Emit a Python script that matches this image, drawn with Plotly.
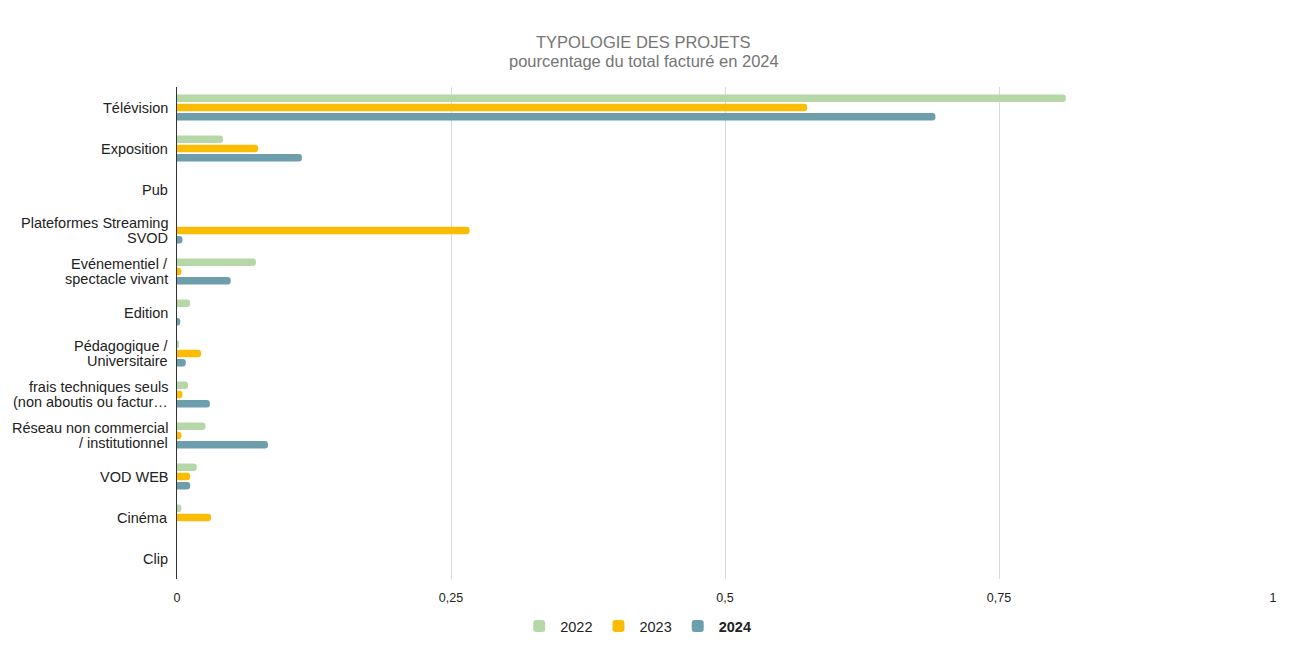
import plotly.graph_objects as go

categories = [
    "Télévision",
    "Exposition",
    "Pub",
    "Plateformes Streaming<br>SVOD",
    "Evénementiel /<br>spectacle vivant",
    "Edition",
    "Pédagogique /<br>Universitaire",
    "frais techniques seuls<br>(non aboutis ou factur…",
    "Réseau non commercial<br>/ institutionnel",
    "VOD WEB",
    "Cinéma",
    "Clip",
]
v2022 = [0.811, 0.042, 0.0, 0.0, 0.072, 0.012, 0.001, 0.010, 0.026, 0.018, 0.004, 0.0]
v2023 = [0.575, 0.074, 0.0, 0.267, 0.004, 0.0, 0.022, 0.005, 0.004, 0.012, 0.031, 0.0]
v2024 = [0.692, 0.114, 0.0, 0.005, 0.049, 0.003, 0.008, 0.030, 0.083, 0.012, 0.0, 0.0]
x_ticks = [0, 0.25, 0.5, 0.75, 1]
x_tick_text = ["0", "0,25", "0,5", "0,75", "1"]

series = [
    ("2022", v2022, "#b6d7a8"),
    ("2023", v2023, "#fbbc04"),
    ("<b>2024</b>", v2024, "#6d9eab"),
]

fig = go.Figure()
for name, vals, col in series:
    fig.add_trace(go.Bar(
        y=categories, x=vals, name=name, orientation="h",
        marker=dict(color=col, line=dict(width=0)),
        hoverinfo="x+y",
    ))

# Category labels as annotations (tighter line spacing, like the reference)
annotations = []
for cat in categories:
    lines = cat.split("<br>")
    n = len(lines)
    for i, ln in enumerate(lines):
        shift = (n - 1) * 7.5 - i * 15
        annotations.append(dict(
            text=ln, xref="paper", x=0, xanchor="right", xshift=-7,
            yref="y", y=cat, yanchor="middle", yshift=shift,
            showarrow=False, font=dict(size=14.5, color="#222222"),
        ))

# Title (two lines)
annotations.append(dict(
    text="TYPOLOGIE DES PROJETS", xref="paper", x=0.426, xanchor="center",
    yref="paper", y=1.0905, yanchor="middle", showarrow=False,
    font=dict(size=16.5, color="#757575"),
))
annotations.append(dict(
    text="pourcentage du total facturé en 2024", xref="paper", x=0.426, xanchor="center",
    yref="paper", y=1.0528, yanchor="middle", showarrow=False,
    font=dict(size=16.5, color="#757575"),
))

fig.update_layout(
    width=1300, height=650,
    paper_bgcolor="white", plot_bgcolor="white",
    font=dict(family="Liberation Sans, Arial, sans-serif", color="#222222", size=13),
    barmode="group", bargap=0.32, bargroupgap=0.18,
    barcornerradius=4,
    margin=dict(l=169, r=35, t=79, b=79, autoexpand=False),
    separators=", ",
    legend=dict(
        orientation="h", xref="container", x=0.484, xanchor="center",
        yref="container", y=0.049, yanchor="middle",
        font=dict(size=14.5, color="#222222"),
        itemwidth=32,
    ),
    showlegend=True,
    annotations=annotations,
)
fig.update_xaxes(
    range=[0, 1], tickvals=x_ticks, ticktext=x_tick_text,
    showgrid=True, gridcolor="#d9d9d9", gridwidth=1,
    zeroline=False, showline=False, automargin=False,
    tickfont=dict(size=12.5, color="#222222"), ticklabelstandoff=9,
)
fig.update_yaxes(
    autorange="reversed", showgrid=False, automargin=False,
    showline=True, linecolor="#333333", linewidth=1,
    ticks="", showticklabels=False,
)

fig.write_html("out.html")
